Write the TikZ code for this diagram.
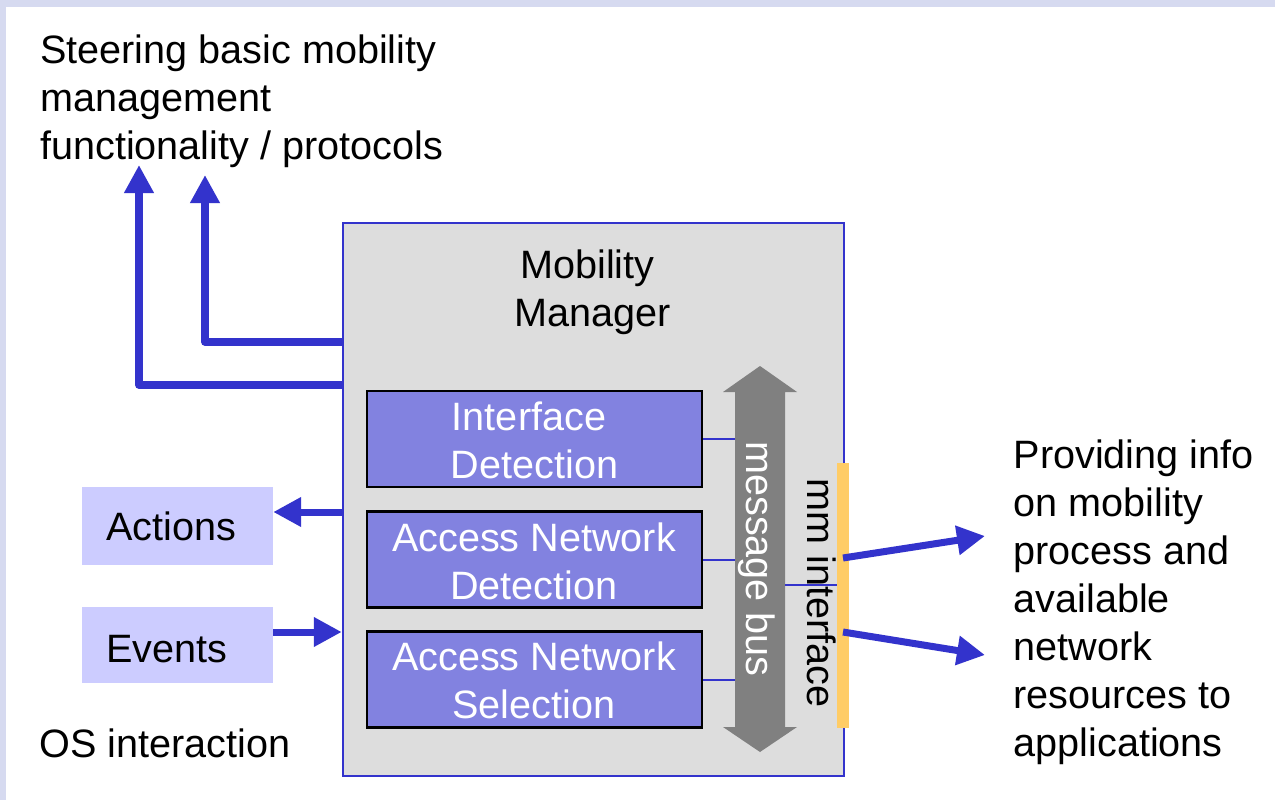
\documentclass[tikz,border=0pt]{standalone}
\usepackage{fontspec}
\setmainfont{Liberation Sans}
\usetikzlibrary{arrows.meta}
\definecolor{mmblue}{HTML}{3333CC}
\definecolor{framecol}{HTML}{D6DAF0}
\definecolor{boxgray}{HTML}{DDDDDD}
\definecolor{modfill}{HTML}{8282E0}
\definecolor{osfill}{HTML}{CCCCFF}
\definecolor{busgray}{HTML}{808080}
\definecolor{mmorange}{HTML}{FFCC66}
\begin{document}
\begin{tikzpicture}[x=1pt,y=-1pt,
  txt/.style={inner sep=0pt, font=\fontsize{39.6}{48}\selectfont, align=left, anchor=north west},
  ctxt/.style={inner sep=0pt, font=\fontsize{39.6}{48}\selectfont, align=center, anchor=north},
  mmbox/.style={draw=mmblue, line width=2.5pt, fill=boxgray, minimum width=501pt, minimum height=553pt, inner sep=0pt},
  modbox/.style={draw=black, line width=2.5pt, fill=modfill, minimum width=335pt, minimum height=96pt, inner sep=0pt},
  osbox/.style={fill=osfill, inner ysep=0pt, inner xsep=24pt, text width=143pt, align=left, text depth=0pt, font=\fontsize{39.6}{48}\selectfont},
  bluearr/.style={draw=mmblue, line width=8pt, line join=round, -{Triangle[length=28pt,width=28pt]}},
  sidearr/.style={draw=mmblue, line width=7pt, -{Triangle[length=28pt,width=28pt]}},
  thinlink/.style={draw=mmblue, line width=2pt}
]
\useasboundingbox (0,0) rectangle (1275,800);
% page background
\fill[framecol] (0,0) rectangle (1275,800);
\fill[white] (6,7) rectangle (1275,800);

% mobility manager
\node[mmbox] (mm) at (593.5,499.5) {};
\node[ctxt] (title) at (593,244.4) {\strut Mobility\kern11pt\\Manager};

% modules
\node[modbox] (id) at (534.5,439) {};
\node[modbox] (and) at (534.5,559.5) {};
\node[modbox] (ans) at (534.5,679.5) {};
\node[ctxt, text=white] (idt) at (534.5,396.4) {\strut Interface\kern11pt\\Detection};
\node[ctxt, text=white] (andt) at (534,517.4) {\strut Access Network\\Detection};
\node[ctxt, text=white] (anst) at (534,636.4) {\strut Access Network\\Selection};

% message bus
\fill[busgray] (760,366) -- (797,392) -- (785,392) -- (785,727) -- (797,727)
  -- (760,752) -- (723,727) -- (735,727) -- (735,392) -- (723,392) -- cycle;
\node[inner sep=0pt, minimum width=50pt, minimum height=335pt] (bus) at (760,559.5) {};
\node[rotate=-90, inner sep=0pt, font=\fontsize{39.6}{48}\selectfont, text=white] (msg) at (757,559) {message bus};

\draw[thinlink] (id.east) -- (id.east -| bus.west);
\draw[thinlink] (and.east) -- (and.east -| bus.west);
\draw[thinlink] (ans.east) -- (ans.east -| bus.west);

% mm interface
\node[fill=mmorange, inner sep=0pt, minimum width=12pt, minimum height=265pt] (mmi) at (843,595.5) {};
\node[rotate=-90, inner sep=0pt, font=\fontsize{39.6}{48}\selectfont] (mmt) at (822,593) {mm interface};
\draw[thinlink] ([yshift=-25.5pt]bus.east) -- ([yshift=-25.5pt]bus.east -| mmi.west);

% steering arrows
\coordinate (up1) at (205,175);
\coordinate (up2) at (139,165);
\draw[bluearr] ([yshift=-120pt]mm.north west) -| (up1);
\draw[bluearr] ([yshift=-163pt]mm.north west) -| (up2);
\node[txt] (steer) at (40,29.5) {\strut Steering basic mobility\\management\\functionality / protocols};

% OS interaction
\node[osbox, text height=28pt, minimum height=78pt] (act) at (177.5,526) {Actions};
\node[osbox, text height=34pt, minimum height=76pt] (ev) at (177.5,645) {Events};
\draw[sidearr] ([yshift=-12.5pt]mm.west) -- ([yshift=-12.5pt]mm.west -| act.east);
\draw[sidearr] ([yshift=13pt]ev.east) -- ([yshift=13pt]ev.east -| mm.west);
\node[txt] (os) at (39.5,723.4) {\strut OS interaction};

% providing info
\coordinate (r1) at (985,536);
\coordinate (r2) at (985,655);
\draw[sidearr] ([yshift=37.5pt]mmi.center) -- (r1);
\draw[sidearr] ([yshift=-36.5pt]mmi.center) -- (r2);
\node[txt] (info) at (1013.5,434.4) {\strut Providing info\\on mobility\\process and\\available\\network\\resources to\\applications};
\end{tikzpicture}
\end{document}
